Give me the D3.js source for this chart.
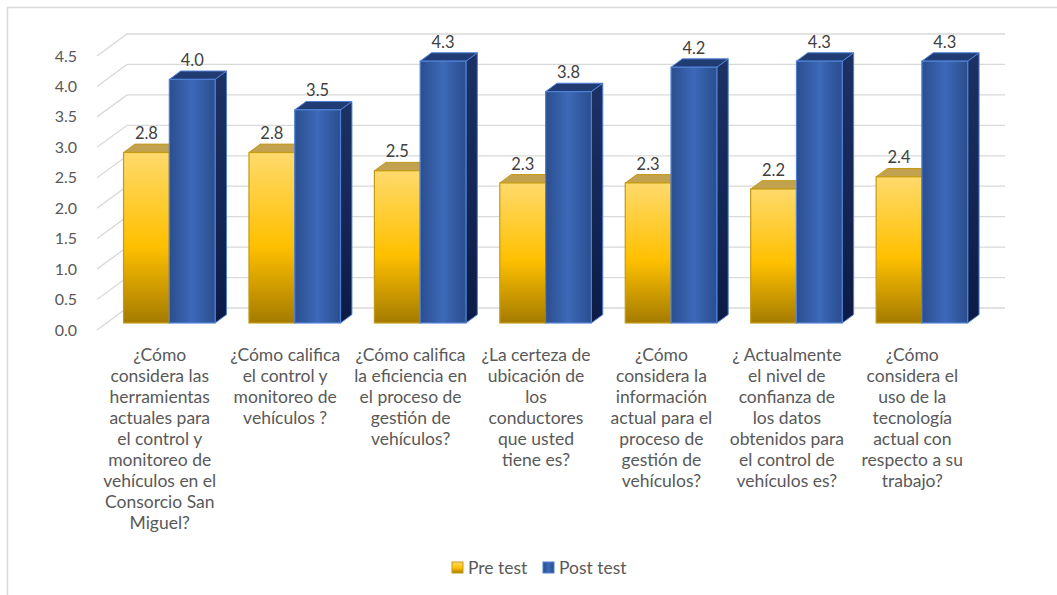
<!DOCTYPE html>
<html>
<head>
<meta charset="utf-8">
<script src="https://cdn.jsdelivr.net/npm/d3@7"></script>
<style>
  html, body { margin: 0; padding: 0; background: #fff; }
  svg { display: block; font-family: Lato, "Open Sans", sans-serif; }
</style>
</head>
<body>
<svg id="chart" width="1057" height="595"></svg>
<script>
// Survey questions (wrapped as they appear under the axis)
const categories = [
  "¿Cómo\nconsidera las\nherramientas\nactuales para\nel control y\nmonitoreo de\nvehículos en el\nConsorcio San\nMiguel?",
  "¿Cómo califica\nel control y\nmonitoreo de\nvehículos ?",
  "¿Cómo califica\nla eficiencia en\nel proceso de\ngestión de\nvehículos?",
  "¿La certeza de\nubicación de\nlos\nconductores\nque usted\ntiene es?",
  "¿Cómo\nconsidera la\ninformación\nactual para el\nproceso de\ngestión de\nvehículos?",
  "¿ Actualmente\nel nivel de\nconfianza de\nlos datos\nobtenidos para\nel control de\nvehículos es?",
  "¿Cómo\nconsidera el\nuso de la\ntecnología\nactual con\nrespecto a su\ntrabajo?"
];
const seriesNames = ["Pre test", "Post test"];
const preTest  = [2.8, 2.8, 2.5, 2.3, 2.3, 2.2, 2.4];
const postTest = [4.0, 3.5, 4.3, 3.8, 4.2, 4.3, 4.3];
const yTicks = [0, 0.5, 1, 1.5, 2, 2.5, 3, 3.5, 4, 4.5];

const svg = d3.select("#chart");
const textColor = "#595959";
const gridColor = "#D9D9D9";

// Oblique projection: depth 0 = front plane, depth 1 = back wall
const DEPTH_DX = 30, DEPTH_DY = -22;
const x = d3.scaleBand().domain(d3.range(categories.length)).range([97, 975]).paddingInner(0).paddingOuter(0);
const y = d3.scaleLinear().domain([0, 4.5]).range([330, 56]);
const px = (xv, d) => xv + d * DEPTH_DX;
const py = (v, d) => y(v) + d * DEPTH_DY;

// Bars sit between these depths
const BAR_D0 = 0.32, BAR_D1 = 0.70;
const inner = d3.scaleBand().domain([0, 1]).range([0, x.bandwidth()]).paddingOuter(0.37).paddingInner(0);

// Gradients
const defs = svg.append("defs");
function linGrad(id, x1, y1, x2, y2, stops) {
  const g = defs.append("linearGradient").attr("id", id)
    .attr("x1", x1).attr("y1", y1).attr("x2", x2).attr("y2", y2);
  stops.forEach(s => g.append("stop").attr("offset", s[0]).attr("stop-color", s[1]));
}
linGrad("preFront", 0, 0, 0, 1, [[0, "#FFDA6C"], [0.55, "#FFC000"], [1, "#A47B00"]]);
linGrad("postFront", 0, 0, 1, 0, [[0, "#2B4E8E"], [0.5, "#3C69B9"], [1, "#2B4E8E"]]);
linGrad("postSide", 0, 0, 0, 1, [[0, "#1C3265"], [1, "#0C1B46"]]);

// Chart area border
svg.append("rect")
  .attr("x", 7.5).attr("y", 7.5).attr("width", 1100).attr("height", 700)
  .attr("fill", "none").attr("stroke", gridColor).attr("stroke-width", 1.5);

// Side-wall diagonals and back-wall gridlines
const grid = svg.append("g").attr("stroke", gridColor).attr("stroke-width", 1.3).attr("fill", "none");
yTicks.forEach(t => {
  grid.append("path").attr("d", d3.line()([
    [px(x.range()[0], 0), py(t, 0)],
    [px(x.range()[0], 1), py(t, 1)],
    [px(x.range()[1], 1), py(t, 1)]
  ]));
});

// Y-axis labels
svg.append("g").selectAll("text").data(yTicks).join("text")
  .attr("x", 77).attr("y", d => py(d, 0))
  .attr("dy", "0.35em")
  .attr("text-anchor", "end")
  .attr("fill", textColor).attr("font-size", 16)
  .text(d3.format(".1f"));

// 3D column drawing
function drawColumn(g, x0, w, v, style) {
  const x1 = x0 + w;
  const fx0 = px(x0, BAR_D0), fx1 = px(x1, BAR_D0);
  const bx0 = px(x0, BAR_D1), bx1 = px(x1, BAR_D1);
  const fTop = py(v, BAR_D0), fBot = py(0, BAR_D0);
  const bTop = py(v, BAR_D1), bBot = py(0, BAR_D1);
  const line = d3.line();
  // side face
  g.append("path")
    .attr("d", line([[fx1, fBot], [fx1, fTop], [bx1, bTop], [bx1, bBot]]) + "Z")
    .attr("fill", style.side).attr("stroke", style.stroke).attr("stroke-width", 1).attr("stroke-linejoin", "round");
  // top face
  g.append("path")
    .attr("d", line([[fx0, fTop], [bx0, bTop], [bx1, bTop], [fx1, fTop]]) + "Z")
    .attr("fill", style.top).attr("stroke", style.stroke).attr("stroke-width", 1).attr("stroke-linejoin", "round");
  // front face
  g.append("rect")
    .attr("x", fx0).attr("y", fTop).attr("width", fx1 - fx0).attr("height", fBot - fTop)
    .attr("fill", style.front).attr("stroke", style.stroke).attr("stroke-width", 1.2);
  return { cx: (fx0 + fx1) / 2, labelY: bTop - 5 };
}

const styles = [
  { front: "url(#preFront)", top: "#C3A24F", side: "#8F6B00", stroke: "#C49A14" },
  { front: "url(#postFront)", top: "#203C73", side: "url(#postSide)", stroke: "#4F80D6" }
];

const barsG = svg.append("g");
const labelsG = svg.append("g");
categories.forEach((c, i) => {
  [preTest[i], postTest[i]].forEach((v, s) => {
    const pos = drawColumn(barsG, x(i) + inner(s), inner.bandwidth(), v, styles[s]);
    labelsG.append("text")
      .attr("x", pos.cx).attr("y", pos.labelY)
      .attr("text-anchor", "middle")
      .attr("fill", "#404040").attr("font-size", 16.5)
      .text(d3.format(".1f")(v));
  });
});

// Category labels centred on the front plane
const catG = svg.append("g").attr("fill", textColor).attr("font-size", 17.5).attr("text-anchor", "middle");
categories.forEach((c, i) => {
  const t = catG.append("text").attr("x", x(i) + x.bandwidth() / 2).attr("y", 361);
  c.split("\n").forEach((ln, k) => {
    t.append("tspan").attr("x", x(i) + x.bandwidth() / 2).attr("dy", k === 0 ? 0 : 21).text(ln);
  });
});

// Legend
const legendFills = ["url(#preFront)", "url(#postFront)"];
const legendStrokes = ["#C49A14", "#4F80D6"];
const legendX = [452, 543];
const legend = svg.append("g");
seriesNames.forEach((n, s) => {
  legend.append("rect")
    .attr("x", legendX[s]).attr("y", 562).attr("width", 11).attr("height", 11)
    .attr("fill", legendFills[s]).attr("stroke", legendStrokes[s]).attr("stroke-width", 1);
  legend.append("text")
    .attr("x", legendX[s] + 16).attr("y", 574)
    .attr("fill", textColor).attr("font-size", 17.5)
    .text(n);
});
</script>
</body>
</html>
